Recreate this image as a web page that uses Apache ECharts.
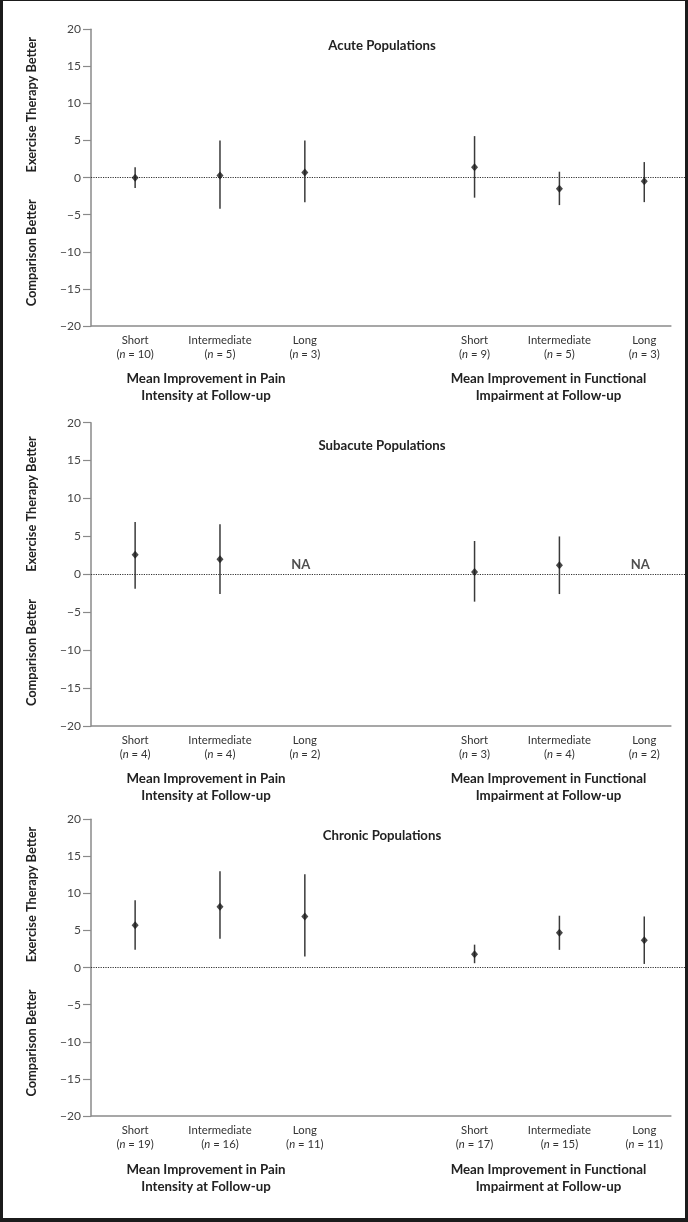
<!DOCTYPE html>
<html>
<head>
<meta charset="utf-8">
<script src="https://cdn.jsdelivr.net/npm/echarts@6/dist/echarts.min.js"></script>
<style>
  html, body { margin: 0; padding: 0; background: #1b1b1b; width: 688px; height: 1222px; overflow: hidden; }
  #c { position: absolute; left: 3px; top: 1px; width: 682px; height: 1217px; background: #ffffff; }
</style>
</head>
<body>
<div id="c"></div>
<script>
// ---------- data ----------
const durations = ['Short', 'Intermediate', 'Long'];
const xPositions = [0, 1, 2, 4, 5, 6];   // pain: 0-2, function: 4-6
const yTicks = [-20, -15, -10, -5, 0, 5, 10, 15, 20];

const panelTitles = ['Acute Populations', 'Subacute Populations', 'Chronic Populations'];
const groupTitles = ['Mean Improvement in Pain\nIntensity at Follow-up', 'Mean Improvement in Functional\nImpairment at Follow-up'];

// n per category (pain short, int, long, function short, int, long)
const acuteN    = [10, 5, 3, 9, 5, 3];
const subacuteN = [4, 4, 2, 3, 4, 2];
const chronicN  = [19, 16, 11, 17, 15, 11];

// means and confidence limits (null = NA)
const acuteMean  = [0.0, 0.3, 0.7, 1.4, -1.5, -0.5];
const acuteLow   = [-1.4, -4.2, -3.3, -2.7, -3.7, -3.3];
const acuteHigh  = [1.4, 5.0, 5.0, 5.6, 0.8, 2.1];

const subacuteMean = [2.6, 2.0, null, 0.3, 1.2, null];
const subacuteLow  = [-1.9, -2.6, null, -3.6, -2.6, null];
const subacuteHigh = [6.9, 6.6, null, 4.4, 5.0, null];

const chronicMean = [5.7, 8.2, 6.9, 1.8, 4.7, 3.7];
const chronicLow  = [2.4, 3.9, 1.5, 0.6, 2.4, 0.5];
const chronicHigh = [9.1, 13.0, 12.6, 3.1, 7.0, 6.9];

// ---------- layout ----------
const OX = 3, OY = 1;               // container offset in page
const px = v => v - OX, py = v => v - OY;
const FONT = 'Lato, "Open Sans", sans-serif';
const panels = [
  { top: 29.3, height: 296.7, n: acuteN, mean: acuteMean, low: acuteLow, high: acuteHigh,
    titleY: 46, exY: 104.7, cmpY: 252.8, groupY: 387.5 },
  { top: 422.7, height: 303.3, n: subacuteN, mean: subacuteMean, low: subacuteLow, high: subacuteHigh,
    titleY: 446, exY: 504, cmpY: 652.5, groupY: 787.5 },
  { top: 819.3, height: 296.7, n: chronicN, mean: chronicMean, low: chronicLow, high: chronicHigh,
    titleY: 836, exY: 894.5, cmpY: 1043, groupY: 1178.3 }
];
const X_MIN = -0.52, X_MAX = 6.48, X_AXIS_END = 6.32;

const grid = [], xAxis = [], yAxis = [], series = [], graphic = [];

panels.forEach((p, i) => {
  grid.push({ left: px(91), width: 594, top: py(p.top), height: p.height });
  xAxis.push({
    type: 'value', gridIndex: i, min: X_MIN, max: X_MAX,
    axisLine: { show: false, onZero: false }, axisTick: { show: false }, splitLine: { show: false },
    axisLabel: {
      customValues: xPositions,
      margin: 8,
      formatter: (v) => {
        const k = xPositions.indexOf(Math.round(v));
        if (k < 0) return '';
        return '{a|' + durations[k % 3] + '}\n{a|(}{i|n}{a| = ' + p.n[k] + ')}';
      },
      rich: {
        a: { fontFamily: FONT, fontSize: 11.3, color: '#333', lineHeight: 13.5 },
        i: { fontFamily: FONT, fontSize: 11.3, color: '#333', fontStyle: 'italic', lineHeight: 13.5 }
      }
    }
  });
  yAxis.push({
    type: 'value', gridIndex: i, min: -20, max: 20, interval: 5,
    axisLine: { show: true, onZero: false, lineStyle: { color: '#8a8a8a', width: 1.5 } },
    axisTick: { show: true, length: 8, lineStyle: { color: '#8a8a8a', width: 1.2 } },
    splitLine: { show: false },
    axisLabel: {
      margin: 10, fontFamily: FONT, fontSize: 12, color: '#444',
      formatter: v => String(v).replace('-', '\u2212')
    }
  });

  const bars = [], pts = [], na = [];
  xPositions.forEach((x, k) => {
    if (p.mean[k] === null) { na.push([x, 0]); return; }
    bars.push([x, p.low[k], p.high[k]]);
    pts.push([x, p.mean[k]]);
  });

  series.push({
    type: 'custom', xAxisIndex: i, yAxisIndex: i, data: bars, silent: true,
    encode: { x: 0, y: [1, 2] },
    renderItem: (params, api) => {
      const a = api.coord([api.value(0), api.value(1)]);
      const b = api.coord([api.value(0), api.value(2)]);
      return { type: 'line', shape: { x1: a[0], y1: a[1], x2: b[0], y2: b[1] },
               style: { stroke: '#3a3a3a', lineWidth: 1.5 } };
    },
    markLine: {
      silent: true, symbol: 'none', label: { show: false }, animation: false,
      data: [
        [{ coord: [X_MIN, -20], lineStyle: { type: 'solid', color: '#8a8a8a', width: 1.5 } },
         { coord: [X_AXIS_END, -20] }],
        { yAxis: 0, lineStyle: { type: [1.2, 1.2], color: '#333', width: 1.2 } }
      ]
    }
  });
  series.push({
    type: 'scatter', xAxisIndex: i, yAxisIndex: i, data: pts, silent: true,
    symbol: 'diamond', symbolSize: [7, 8], itemStyle: { color: '#1a1a1a' }, z: 5
  });
  if (na.length) {
    series.push({
      type: 'scatter', xAxisIndex: i, yAxisIndex: i, data: na, silent: true,
      symbolSize: 0,
      label: { show: true, position: 'top', distance: 3, offset: [-4, 0], formatter: 'NA',
               fontFamily: FONT, fontWeight: 'bold', fontSize: 13, color: '#222' }
    });
  }

  // texts
  graphic.push({ type: 'text', x: px(382), y: py(p.titleY),
    style: { text: panelTitles[i], fontFamily: FONT, fontWeight: 'bold', fontSize: 13.2,
             fill: '#222', textAlign: 'center', textVerticalAlign: 'middle' } });
  graphic.push({ type: 'text', x: px(32), y: py(p.exY), rotation: Math.PI / 2,
    style: { text: 'Exercise Therapy Better', fontFamily: FONT, fontWeight: 'bold', fontSize: 12.8,
             fill: '#222', textAlign: 'center', textVerticalAlign: 'middle' } });
  graphic.push({ type: 'text', x: px(32), y: py(p.cmpY), rotation: Math.PI / 2,
    style: { text: 'Comparison Better', fontFamily: FONT, fontWeight: 'bold', fontSize: 12.8,
             fill: '#222', textAlign: 'center', textVerticalAlign: 'middle' } });
  [206, 548.5].forEach((gx, g) => {
    graphic.push({ type: 'text', x: px(gx), y: py(p.groupY),
      style: { text: groupTitles[g], fontFamily: FONT, fontWeight: 'bold', fontSize: 13.3,
               lineHeight: 17, fill: '#222', textAlign: 'center', textVerticalAlign: 'middle' } });
  });
});

const chart = echarts.init(document.getElementById('c'), null, { renderer: 'canvas' });
chart.setOption({
  animation: false,
  backgroundColor: '#ffffff',
  grid, xAxis, yAxis, series, graphic
});
</script>
</body>
</html>
